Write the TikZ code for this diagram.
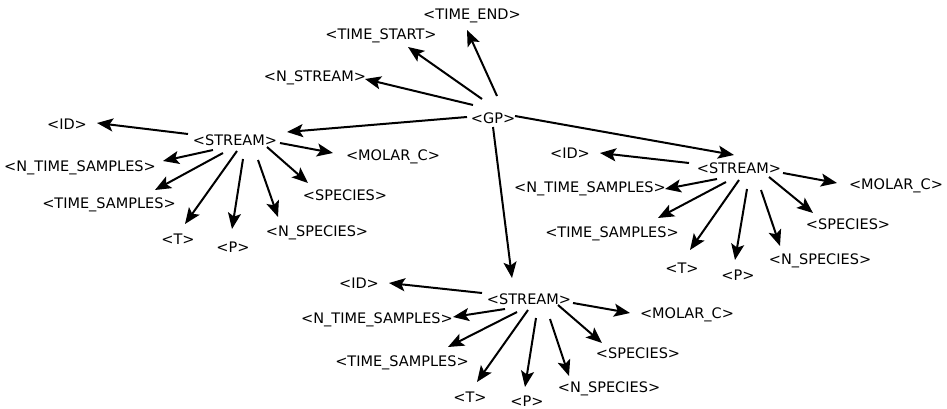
\documentclass[tikz,border=0pt]{standalone}
\usepackage{fontspec}
\setmainfont{DejaVu Sans}
\usetikzlibrary{arrows.meta,calc}
\begin{document}
\begin{tikzpicture}[x=1pt,y=-1pt,
  lbl/.style={inner sep=0pt,text height=10.5pt,text depth=0pt,font=\fontsize{14.5}{17}\selectfont},
  arr/.style={line width=2pt,-{Stealth[length=16pt,width=13pt,inset=3.5pt]}}]
\useasboundingbox (0,0) rectangle (947,409);
% top
\node[lbl] (gp) at (493,118) {<GP>};
\node[lbl] (tend) at (472,14) {<TIME\_END>};
\node[lbl] (tstart) at (381,34) {<TIME\_START>};
\node[lbl] (nstream) at (315,76) {<N\_STREAM>};
% left group
\node[lbl] (sL) at (235,140) {<STREAM>};
\node[lbl] (idL) at (67,124) {<ID>};
\node[lbl] (molL) at (393,155) {<MOLAR\_C>};
\node[lbl] (ntsL) at (80,166) {<N\_TIME\_SAMPLES>};
\node[lbl] (spL) at (345,195) {<SPECIES>};
\node[lbl] (tsL) at (109,203) {<TIME\_SAMPLES>};
\node[lbl] (nspL) at (317,231) {<N\_SPECIES>};
\node[lbl] (tL) at (178,239) {<T>};
\node[lbl] (pL) at (233,247) {<P>};
% right group
\node[lbl] (sR) at (739,168) {<STREAM>};
\node[lbl] (idR) at (570,153) {<ID>};
\node[lbl] (molR) at (896,184) {<MOLAR\_C>};
\node[lbl] (ntsR) at (590,187) {<N\_TIME\_SAMPLES>};
\node[lbl] (spR) at (848,224) {<SPECIES>};
\node[lbl] (tsR) at (612,232) {<TIME\_SAMPLES>};
\node[lbl] (nspR) at (820,259) {<N\_SPECIES>};
\node[lbl] (tR) at (682,268) {<T>};
\node[lbl] (pR) at (738,275) {<P>};
% bottom group
\node[lbl] (sB) at (529,299) {<STREAM>};
\node[lbl] (idB) at (359,283) {<ID>};
\node[lbl] (molB) at (687,313) {<MOLAR\_C>};
\node[lbl] (ntsB) at (377,318) {<N\_TIME\_SAMPLES>};
\node[lbl] (spB) at (638,353) {<SPECIES>};
\node[lbl] (tsB) at (402,361) {<TIME\_SAMPLES>};
\node[lbl] (nspB) at (609,387) {<N\_SPECIES>};
\node[lbl] (tB) at (470,397) {<T>};
\node[lbl] (pB) at (527,401) {<P>};
% edges from GP
\draw[arr] ($(gp)+(4,-22)$) -- ($(tend)+(-5,16)$);
\draw[arr] ($(gp)+(-11,-19)$) -- ($(tstart)+(27,13)$);
\draw[arr] ($(gp)+(-20,-13)$) -- ($(nstream)+(50,3)$);
\draw[arr] ($(gp)+(-26,-1)$) -- ($(sL)+(52,-8)$);
\draw[arr] ($(gp)+(22,-2)$) -- ($(sR)+(-5,-13)$);
\draw[arr] ($(gp)+(0,9)$) -- ($(sB)+(-17,-21)$);
% left group edges
\draw[arr] ($(sL)+(-47,-6)$) -- ($(idL)+(30,-1)$);
\draw[arr] ($(sL)+(-22,10)$) -- ($(ntsL)+(83,-5)$);
\draw[arr] ($(sL)+(-12,13)$) -- ($(tsL)+(46,-13)$);
\draw[arr] ($(sL)+(2,11)$) -- ($(tL)+(7,-15)$);
\draw[arr] ($(sL)+(8,19)$) -- ($(pL)+(-1,-18)$);
\draw[arr] ($(sL)+(23,20)$) -- ($(nspL)+(-39,-14)$);
\draw[arr] ($(sL)+(32,7)$) -- ($(spL)+(-37,-12)$);
\draw[arr] ($(sL)+(45,3)$) -- ($(molL)+(-60,-2)$);
% right group edges
\draw[arr] ($(sR)+(-50,-5)$) -- ($(idR)+(30,0)$);
\draw[arr] ($(sR)+(-22,11)$) -- ($(ntsR)+(75,2)$);
\draw[arr] ($(sR)+(-13,14)$) -- ($(tsR)+(46,-14)$);
\draw[arr] ($(sR)+(0,12)$) -- ($(tR)+(8,-18)$);
\draw[arr] ($(sR)+(8,21)$) -- ($(pR)+(-3,-15)$);
\draw[arr] ($(sR)+(22,22)$) -- ($(nspR)+(-40,-13)$);
\draw[arr] ($(sR)+(30,9)$) -- ($(spR)+(-35,-11)$);
\draw[arr] ($(sR)+(44,5)$) -- ($(molR)+(-59,-1)$);
% bottom group edges
\draw[arr] ($(sB)+(-47,-6)$) -- ($(idB)+(30,0)$);
\draw[arr] ($(sB)+(-24,10)$) -- ($(ntsB)+(76,-1)$);
\draw[arr] ($(sB)+(-12,13)$) -- ($(tsB)+(46,-14)$);
\draw[arr] ($(sB)+(-1,11)$) -- ($(tB)+(7,-15)$);
\draw[arr] ($(sB)+(7,19)$) -- ($(pB)+(-2,-14)$);
\draw[arr] ($(sB)+(21,20)$) -- ($(nspB)+(-40,-11)$);
\draw[arr] ($(sB)+(29,6)$) -- ($(spB)+(-36,-10)$);
\draw[arr] ($(sB)+(44,4)$) -- ($(molB)+(-57,0)$);
\end{tikzpicture}
\end{document}
